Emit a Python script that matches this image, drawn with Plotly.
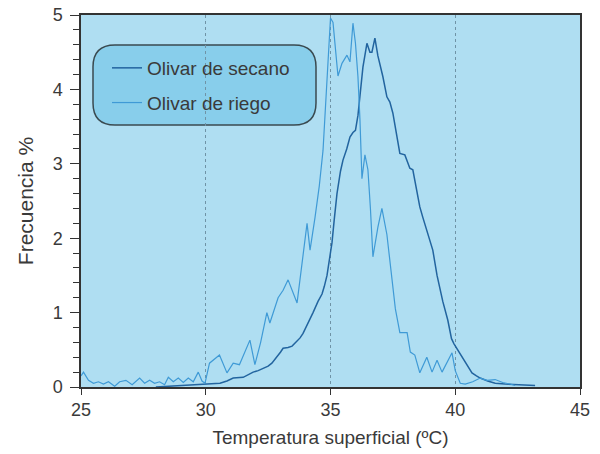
import plotly.graph_objects as go

# Olivar de riego (lighter line)
riego_t = [25.0, 25.1, 25.3, 25.5, 25.7, 25.9, 26.1, 26.35, 26.55, 26.8, 27.05, 27.35, 27.55, 27.75,
           27.95, 28.15, 28.35, 28.5, 28.7, 28.9, 29.1, 29.3, 29.5, 29.7, 29.85, 29.97, 30.15, 30.35,
           30.55, 30.85, 31.1, 31.35, 31.55, 31.77, 31.97, 32.2, 32.45, 32.57, 32.9, 33.1, 33.3, 33.45,
           33.66, 34.06, 34.18, 34.38, 34.55, 34.7, 34.9, 35.0, 35.1, 35.3, 35.46, 35.66, 35.78, 35.9,
           36.0, 36.1, 36.18, 36.26, 36.38, 36.5, 36.6, 36.7, 36.9, 37.06, 37.26, 37.46, 37.6, 37.78,
           38.07, 38.2, 38.38, 38.58, 38.86, 39.07, 39.27, 39.47, 39.67, 39.87, 40.0, 40.2, 40.4, 40.7,
           41.0, 41.27, 41.6, 41.9, 42.2, 42.4]
riego_f = [0.15, 0.2, 0.09, 0.05, 0.07, 0.04, 0.07, 0.01, 0.07, 0.09, 0.03, 0.12, 0.05, 0.09,
           0.05, 0.07, 0.03, 0.13, 0.07, 0.12, 0.06, 0.12, 0.07, 0.2, 0.08, 0.05, 0.32, 0.38,
           0.43, 0.19, 0.32, 0.3, 0.45, 0.63, 0.3, 0.6, 1.0, 0.86, 1.2, 1.3, 1.44, 1.3,
           1.13, 2.2, 1.84, 2.28, 2.7, 3.18, 4.4, 4.96, 4.9, 4.18, 4.35, 4.46, 4.37, 4.89,
           4.62, 4.17, 3.6, 2.8, 3.12, 2.92, 2.4, 1.75, 2.15, 2.4, 2.05, 1.48, 1.05, 0.73,
           0.73, 0.47, 0.43, 0.19, 0.4, 0.2, 0.36, 0.2, 0.32, 0.46, 0.22, 0.05, 0.04, 0.07,
           0.12, 0.09, 0.1, 0.06, 0.04, 0.02]

# Olivar de secano (darker line)
secano_t = [28.0, 28.5, 29.0, 29.5, 30.0, 30.3, 30.57, 30.85, 31.1, 31.5, 31.7, 31.9, 32.1, 32.3,
            32.5, 32.65, 32.85, 33.0, 33.1, 33.3, 33.46, 33.6, 33.78, 33.9, 34.1, 34.3, 34.5, 34.66,
            34.75, 34.86, 34.95, 35.06, 35.15, 35.26, 35.4, 35.5, 35.65, 35.78, 35.9, 36.0, 36.1, 36.2,
            36.3, 36.46, 36.58, 36.66, 36.78, 36.9, 37.1, 37.26, 37.38, 37.5, 37.65, 37.78, 37.98, 38.18,
            38.3, 38.45, 38.58, 38.7, 38.9, 39.1, 39.27, 39.5, 39.7, 39.85, 39.95, 40.1, 40.25, 40.45,
            40.67, 40.85, 41.0, 41.3, 41.6, 42.0, 42.5, 43.2]
secano_f = [0.0, 0.01, 0.01, 0.02, 0.03, 0.04, 0.05, 0.08, 0.12, 0.13, 0.17, 0.2, 0.22, 0.25,
            0.28, 0.32, 0.4, 0.47, 0.52, 0.53, 0.55, 0.6, 0.66, 0.72, 0.85, 1.0, 1.15, 1.25,
            1.35, 1.5, 1.7, 1.94, 2.25, 2.6, 2.9, 3.05, 3.2, 3.36, 3.42, 3.45, 3.65, 4.0,
            4.3, 4.62, 4.5, 4.5, 4.69, 4.45, 4.17, 3.9, 3.83, 3.68, 3.4, 3.14, 3.12, 2.94,
            2.92, 2.65, 2.42, 2.28, 2.05, 1.84, 1.5, 1.15, 0.9, 0.65, 0.58, 0.5, 0.42, 0.3,
            0.19, 0.15, 0.12, 0.08, 0.05, 0.04, 0.03, 0.02]

x_ticks = [25, 30, 35, 40, 45]
y_ticks = [0, 1, 2, 3, 4, 5]

TEXT = "#3a3a3a"
FONT = "Liberation Sans, Arial, sans-serif"

fig = go.Figure()
fig.add_trace(go.Scatter(x=secano_t, y=secano_f, mode="lines", name="Olivar de secano",
                         legendgroup="a", line=dict(color="#22649f", width=1.5)))
fig.add_trace(go.Scatter(x=riego_t, y=riego_f, mode="lines", name="Olivar de riego",
                         legendgroup="b", line=dict(color="#3f9ad6", width=1.2)))

# page body margin is removed by post_script below, so targets are page pixels
PL, PR, PT, PB = 81, 580, 15, 387
W, H = float(PR - PL), float(PB - PT)

# rounded legend frame (pixel-based radius converted to paper units)
x0, x1 = (93 - PL) / W, (316 - PL) / W
y1, y0 = (PB - 45) / H, (PB - 125) / H
rx, ry = 22 / W, 22 / H
path = (f"M {x0+rx},{y1} L {x1-rx},{y1} Q {x1},{y1} {x1},{y1-ry} "
        f"L {x1},{y0+ry} Q {x1},{y0} {x1-rx},{y0} L {x0+rx},{y0} "
        f"Q {x0},{y0} {x0},{y0+ry} L {x0},{y1-ry} Q {x0},{y1} {x0+rx},{y1} Z")
fig.add_shape(type="path", path=path, xref="paper", yref="paper",
              fillcolor="#88ceeb", line=dict(color="#3a4a50", width=1.5), layer="below")

FW, FH = 600, 454
fig.update_layout(
    width=FW, height=FH,
    margin=dict(l=PL, r=FW - PR, t=PT, b=FH - PB, autoexpand=False),
    paper_bgcolor="white",
    plot_bgcolor="#afdef2",
    font=dict(family=FONT, size=18, color=TEXT),
    showlegend=True,
    legend=dict(x=(107 - PL) / W, y=(PB - 49) / H, xanchor="left", yanchor="top",
                bgcolor="rgba(0,0,0,0)", borderwidth=0, traceorder="grouped",
                tracegroupgap=7, font=dict(size=19, color=TEXT)),
    xaxis=dict(range=[25, 45], tickvals=x_ticks, ticks="outside", ticklen=6, tickwidth=1.2,
               tickcolor="#333", showline=True, linecolor="#333", linewidth=1.5, mirror=True,
               showgrid=True, gridcolor="#6f93a6", griddash="dot", gridwidth=1, zeroline=False,
               automargin=False, ticklabeloverflow="allow",
               title=dict(text="Temperatura superficial (ºC)", standoff=11,
                          font=dict(size=19))),
    yaxis=dict(range=[0, 5], tickvals=y_ticks, ticks="outside", ticklen=9, tickwidth=1.2,
               tickcolor="#333", showline=True, linecolor="#333", linewidth=1.5, mirror=True,
               showgrid=False, zeroline=False, automargin=False, ticklabelstandoff=4,
               ticklabeloverflow="allow",
               minor=dict(dtick=0.2, ticks="outside", ticklen=6, tickcolor="#333", showgrid=False),
               title=dict(text="Frecuencia %", standoff=13, font=dict(size=21))),
)

fig.write_html("out.html", config={"displayModeBar": False},
               post_script="document.body.style.margin='0';")
